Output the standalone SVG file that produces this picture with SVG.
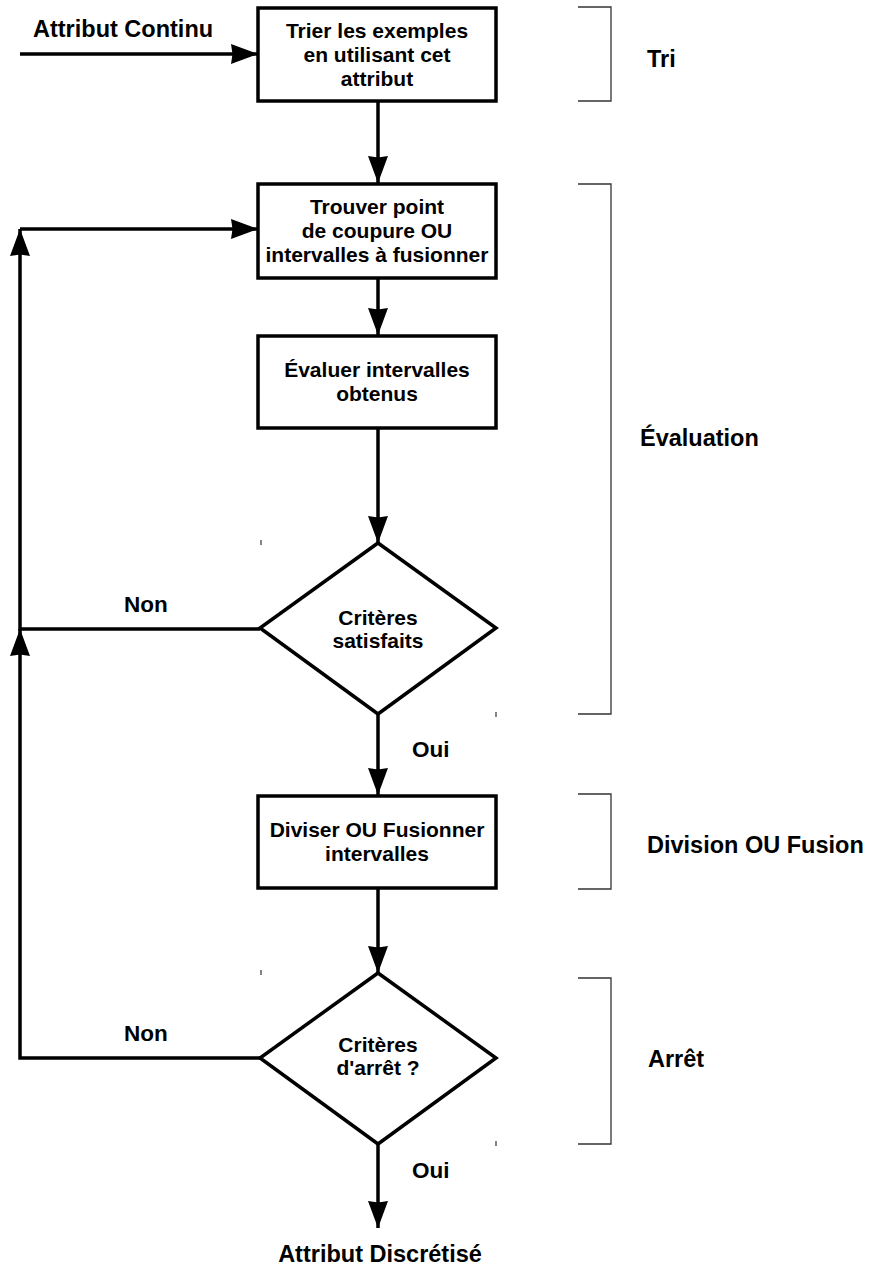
<svg xmlns="http://www.w3.org/2000/svg" width="871" height="1278" viewBox="0 0 871 1278">
<style>
.node{fill:#fff;stroke:#000;stroke-width:3.5}
.edge{fill:none;stroke:#000;stroke-width:3.5}
.br{fill:none;stroke:#333;stroke-width:1.3}
.t{font-family:"Liberation Sans",Arial,sans-serif;font-weight:bold;font-size:21px;fill:#000;text-anchor:middle}
.l{font-family:"Liberation Sans",Arial,sans-serif;font-weight:bold;font-size:23.5px;fill:#000}
.s{font-family:"Liberation Sans",Arial,sans-serif;font-weight:bold;font-size:22.5px;fill:#000}
.tick{stroke:#333;stroke-width:1.2}
</style>
<defs>
<marker id="ah" markerUnits="userSpaceOnUse" markerWidth="28" markerHeight="20" refX="27" refY="10" orient="auto">
<path d="M0,0 L27,10 L0,20 L1.5,10 z" fill="#000"/>
</marker>
</defs>
<rect width="871" height="1278" fill="#fff"/>
<g id="connectors">
<line class="edge" x1="20" y1="54" x2="258" y2="54" marker-end="url(#ah)"/>
<line class="edge" x1="378" y1="101" x2="378" y2="183" marker-end="url(#ah)"/>
<line class="edge" x1="378" y1="278" x2="378" y2="335" marker-end="url(#ah)"/>
<line class="edge" x1="378" y1="428" x2="378" y2="543" marker-end="url(#ah)"/>
<line class="edge" x1="378" y1="714" x2="378" y2="795" marker-end="url(#ah)"/>
<line class="edge" x1="378" y1="888" x2="378" y2="973" marker-end="url(#ah)"/>
<line class="edge" x1="378" y1="1144" x2="378" y2="1228" marker-end="url(#ah)"/>
<polyline class="edge" points="260,629 20,629 20,229" marker-end="url(#ah)"/>
<line class="edge" x1="20" y1="229" x2="258" y2="229" marker-end="url(#ah)"/>
<polyline class="edge" points="260,1058 20,1058 20,629" marker-end="url(#ah)"/>
</g>
<g id="n1"><rect class="node" x="258" y="8" width="238" height="93"/>
<text class="t" x="377" y="38">Trier les exemples</text><text class="t" x="377" y="62">en utilisant cet</text><text class="t" x="377" y="86">attribut</text></g>
<g id="n2"><rect class="node" x="258" y="184" width="238" height="94"/>
<text class="t" x="377" y="214">Trouver point</text><text class="t" x="377" y="238">de coupure OU</text><text class="t" x="377" y="262">intervalles à fusionner</text></g>
<g id="n3"><rect class="node" x="258" y="336" width="238" height="92"/>
<text class="t" x="377" y="377">Évaluer intervalles</text><text class="t" x="377" y="401">obtenus</text></g>
<g id="d1"><polygon class="node" points="378,543 496,628 378,714 260,628"/>
<text class="t" x="378" y="625">Critères</text><text class="t" x="378" y="648">satisfaits</text></g>
<g id="n4"><rect class="node" x="258" y="796" width="238" height="92"/>
<text class="t" x="377" y="837">Diviser OU Fusionner</text><text class="t" x="377" y="861">intervalles</text></g>
<g id="d2"><polygon class="node" points="378,973 496,1058 378,1144 260,1058"/>
<text class="t" x="378" y="1052">Critères</text><text class="t" x="378" y="1075">d'arrêt ?</text></g>
<g id="labels">
<text class="l" x="33" y="37">Attribut Continu</text>
<text class="s" x="124" y="612">Non</text>
<text class="s" x="124" y="1041">Non</text>
<text class="s" x="412" y="757">Oui</text>
<text class="s" x="412" y="1178">Oui</text>
<text class="l" x="380" y="1262" text-anchor="middle">Attribut Discrétisé</text>
</g>
<g id="brackets">
<polyline class="br" points="578,7 611,7 611,101 578,101"/>
<polyline class="br" points="578,184 611,184 611,714 578,714"/>
<polyline class="br" points="578,794 611,794 611,889 578,889"/>
<polyline class="br" points="578,978 611,978 611,1144 578,1144"/>
<text class="l" x="647" y="67">Tri</text>
<text class="l" x="640" y="446">Évaluation</text>
<text class="l" x="647" y="853">Division OU Fusion</text>
<text class="l" x="648" y="1067">Arrêt</text>
</g>
<g id="ticks">
<line class="tick" x1="261" y1="540" x2="261" y2="545"/>
<line class="tick" x1="496" y1="712" x2="496" y2="717"/>
<line class="tick" x1="261" y1="970" x2="261" y2="975"/>
<line class="tick" x1="496" y1="1141" x2="496" y2="1146"/>
</g>
</svg>
